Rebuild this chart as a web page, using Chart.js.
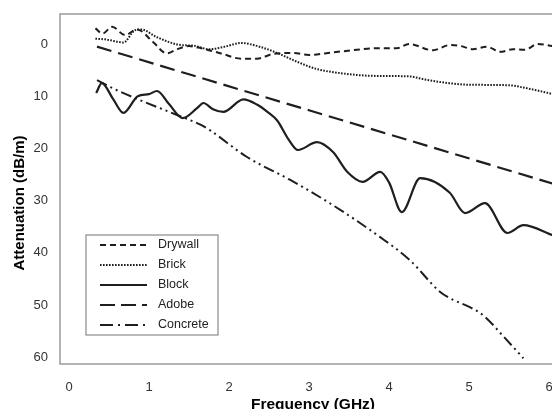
<!DOCTYPE html>
<html>
<head>
<meta charset="utf-8">
<script src="https://cdn.jsdelivr.net/npm/chart.js@4.4.1/dist/chart.umd.min.js"></script>
<style>
  html, body { margin: 0; padding: 0; background: #fff; overflow: hidden; }
  #wrap { position: absolute; left: 0; top: 0; width: 552px; height: 409px; }
</style>
</head>
<body>
<div id="wrap"><canvas id="chart1" width="552" height="409"></canvas></div>
<script>
// ticks
const xTicks = [0, 1, 2, 3, 4, 5, 6];
const yTicks = [0, 10, 20, 30, 40, 50, 60];

// series, frequency (GHz) and attenuation (dB/m)
const drywallF = [0.33, 0.42, 0.54, 0.7, 0.85, 1.05, 1.22, 1.35, 1.5, 1.65, 1.9, 2.15, 2.35, 2.55, 2.8, 3.0, 3.3, 3.6, 3.85, 4.1, 4.25, 4.55, 4.76, 4.9, 5.05, 5.22, 5.39, 5.55, 5.7, 5.86, 6.05];
const drywallA = [-3.0, -2.0, -3.3, -1.7, -2.8, -0.4, 1.8, 1.0, 0.4, 0.8, 1.8, 2.8, 2.8, 1.9, 1.7, 2.1, 1.6, 1.1, 0.8, 0.8, 0.0, 1.2, 0.2, 0.4, 1.0, 0.5, 1.5, 1.0, 1.1, 0.0, 0.4];

const brickF = [0.33, 0.45, 0.68, 0.82, 0.9, 1.1, 1.4, 1.55, 1.75, 1.95, 2.15, 2.4, 2.6, 2.85, 3.1, 3.4, 3.8, 4.25, 4.45, 4.75, 5.0, 5.5, 5.7, 6.05];
const brickA = [-1.0, -0.9, -0.3, -2.6, -2.8, -1.3, 0.2, 0.3, 1.0, 0.5, -0.2, 0.6, 1.7, 3.4, 4.8, 5.6, 6.1, 6.2, 6.8, 7.5, 7.8, 7.9, 8.4, 9.6];

const blockF = [0.34, 0.41, 0.55, 0.68, 0.86, 1.0, 1.1, 1.25, 1.42, 1.6, 1.68, 1.8, 1.93, 2.18, 2.35, 2.48, 2.6, 2.75, 2.86, 3.1, 3.3, 3.48, 3.67, 3.89, 4.0, 4.16, 4.39, 4.76, 4.95, 5.2, 5.48, 5.68, 6.04];
const blockA = [9.4, 7.5, 10.5, 13.2, 10.0, 9.6, 9.0, 11.5, 14.2, 12.3, 11.3, 12.5, 13.0, 10.6, 11.6, 13.0, 14.6, 18.4, 20.3, 18.8, 20.7, 24.5, 26.4, 24.5, 26.5, 32.2, 25.7, 28.5, 32.4, 30.5, 36.2, 34.7, 36.6];

const adobeF = [0.35, 1.5, 3.0, 4.5, 6.1];
const adobeA = [0.5, 5.8, 12.7, 19.6, 27.0];

const concreteF = [0.35, 0.55, 0.88, 1.35, 1.65, 1.76, 2.22, 2.76, 3.26, 3.89, 4.26, 4.64, 4.8, 5.01, 5.18, 5.43, 5.68];
const concreteA = [6.9, 8.5, 10.7, 13.6, 15.5, 16.5, 21.6, 26.0, 30.5, 37.0, 41.4, 47.5, 49.0, 50.4, 52.0, 56.0, 60.2];

const pts = (f, a) => f.map((v, i) => ({ x: v, y: a[i] }));
const ink = '#1e1e1e';
const fam = '"Liberation Sans", Arial, sans-serif';

function ds(label, f, a, dash, width, tension) {
  return {
    label: label,
    data: pts(f, a),
    borderColor: ink,
    borderWidth: width,
    borderDash: dash,
    pointRadius: 0,
    tension: tension,
    cubicInterpolationMode: tension > 0 ? 'monotone' : 'default',
    fill: false,
    clip: { left: 0, top: 0, right: 4, bottom: 0 }
  };
}

const datasets = [
  ds('Drywall', drywallF, drywallA, [6, 4], 2, 0.4),
  ds('Brick', brickF, brickA, [1.6, 1.4], 2, 0.4),
  ds('Block', blockF, blockA, [], 2.2, 0.4),
  ds('Adobe', adobeF, adobeA, [15, 7], 2.2, 0),
  ds('Concrete', concreteF, concreteA, [11, 4, 2, 4, 2, 4], 2, 0.2)
];

function fixPad(s) {
  s.paddingTop = 0;
  s.paddingBottom = 0;
  s.paddingLeft = 0;
  s.paddingRight = 0;
}

// frame (open on the right, cut by the picture edge), axis titles, boxed legend
const frameAndLegend = {
  id: 'frameAndLegend',
  afterDraw(chart) {
    const c = chart.ctx, a = chart.chartArea, W = chart.width;
    const xs = chart.scales.x;
    c.save();
    c.strokeStyle = '#9a9a9a';
    c.lineWidth = 1.5;
    c.beginPath();
    c.moveTo(W + 2, a.top);
    c.lineTo(a.left, a.top);
    c.lineTo(a.left, a.bottom);
    c.lineTo(W + 2, a.bottom);
    c.stroke();

    // axis titles
    c.fillStyle = '#000';
    c.textBaseline = 'alphabetic';
    c.textAlign = 'center';
    c.font = 'bold 15.5px ' + fam;
    c.fillText('Frequency (GHz)', xs.getPixelForValue(3.05), 409);
    c.font = 'bold 15px ' + fam;
    c.save();
    c.translate(23.5, 203);
    c.rotate(-Math.PI / 2);
    c.fillText('Attenuation (dB/m)', 0, 0);
    c.restore();

    // legend
    const bx = a.left + 26, by = a.top + 221, bw = 132, bh = 100;
    c.fillStyle = '#fff';
    c.fillRect(bx, by, bw, bh);
    c.strokeStyle = '#8a8a8a';
    c.lineWidth = 1.2;
    c.strokeRect(bx, by, bw, bh);
    c.font = '12.5px ' + fam;
    c.textAlign = 'left';
    c.textBaseline = 'middle';
    const legDash = [[6, 4], [1.6, 1.4], [], [15, 6], [13, 5, 2, 5]];
    chart.data.datasets.forEach((d, i) => {
      const yy = by + 10 + i * 20;
      c.strokeStyle = ink;
      c.lineWidth = 2;
      c.setLineDash(legDash[i]);
      c.beginPath();
      c.moveTo(bx + 14, yy);
      c.lineTo(bx + 61, yy);
      c.stroke();
      c.setLineDash([]);
      c.fillStyle = '#222';
      c.fillText(d.label, bx + 72, yy);
    });
    c.restore();
  }
};

new Chart(document.getElementById('chart1'), {
  type: 'line',
  data: { datasets: datasets },
  plugins: [frameAndLegend],
  options: {
    responsive: false,
    animation: false,
    devicePixelRatio: 1,
    layout: { padding: { top: 14, right: 0, left: 0, bottom: 0 } },
    plugins: { legend: { display: false }, tooltip: { enabled: false } },
    scales: {
      x: {
        type: 'linear',
        min: -0.1125,
        max: 6.0375,
        afterBuildTicks: s => { s.ticks = xTicks.map(v => ({ value: v })); },
        afterFit: s => { s.height = 45; fixPad(s); },
        grid: { display: false },
        border: { display: false },
        ticks: { color: '#333', padding: 8, font: { size: 13, family: fam } }
      },
      y: {
        type: 'linear',
        reverse: true,
        min: -5.75,
        max: 61.3,
        afterBuildTicks: s => { s.ticks = yTicks.map(v => ({ value: v })); },
        afterFit: s => { s.width = 60; fixPad(s); },
        grid: { display: false },
        border: { display: false },
        ticks: { color: '#333', padding: 4, font: { size: 13, family: fam } }
      }
    }
  }
});
</script>
</body>
</html>
